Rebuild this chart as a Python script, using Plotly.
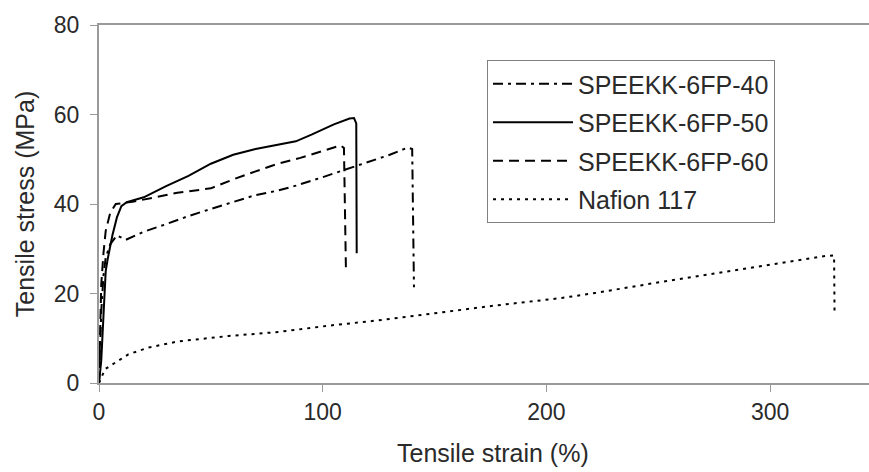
import plotly.graph_objects as go

# ---- data ----
s40_strain = [0, 0.5, 1, 2, 3, 5, 8, 12, 20, 30, 40, 50, 60, 70, 80, 88, 100, 110, 120, 130, 138, 140, 140.8]
s40_stress = [0, 8, 16, 24, 28, 31, 33, 32, 33.8, 35.5, 37.3, 38.9, 40.5, 42, 43, 44.1, 46, 47.7, 49.3, 51, 52.6, 52.3, 21.4]

s50_strain = [0, 1, 2, 3, 4, 6, 8, 10, 12.4, 20, 30, 40, 50, 60, 70, 80, 88, 95, 105, 112, 114, 115, 115.2]
s50_stress = [0, 5, 15, 25, 28, 33, 37, 39.5, 40.4, 41.5, 44, 46.3, 49, 51, 52.3, 53.3, 54, 55.5, 57.8, 59.1, 59.2, 58, 29]

s60_strain = [0, 0.5, 1, 2, 3, 5, 7.5, 15, 25, 35, 50, 60, 70, 80, 90, 100, 108, 109.5, 110.4]
s60_stress = [0, 12, 22, 29, 34, 38, 40, 40.5, 41.5, 42.5, 43.5, 45.5, 47.3, 49, 50.3, 51.8, 53.1, 52.5, 25]

naf_strain = [0, 2.7, 13.1, 22, 35.5, 57.8, 80.2, 102.5, 124.9, 147.2, 177, 206.8, 221.7, 249, 280, 310, 325, 328.6, 328.8]
naf_stress = [0, 3.1, 6.4, 7.9, 9.3, 10.5, 11.4, 12.8, 14.0, 15.4, 17.3, 19.0, 20.1, 22.4, 24.8, 27.2, 28.4, 28.5, 16.1]

names = ["SPEEKK-6FP-40", "SPEEKK-6FP-50", "SPEEKK-6FP-60", "Nafion 117"]
dashes = ["10px,5px,3px,5px", "solid", "10px,6px", "3px,5px"]

x_title = "Tensile strain (%)"
y_title = "Tensile stress (MPa)"

FONT = "Liberation Sans, Arial, sans-serif"
TXT = "#2a2a2a"
AX = "#9a9a9a"

fig = go.Figure()
for i, (xs, ys, nm, ds) in enumerate(zip([s40_strain, s50_strain, s60_strain, naf_strain],
                                         [s40_stress, s50_stress, s60_stress, naf_stress],
                                         names, dashes)):
    fig.add_trace(go.Scatter(x=xs, y=ys, mode="lines", name=nm, legendgroup=f"g{i}",
                             line=dict(color="black", width=2, dash=ds)))

fig.update_layout(
    width=869, height=472,
    margin=dict(l=99, r=0, t=25, b=89),
    paper_bgcolor="white", plot_bgcolor="white",
    font=dict(family=FONT, color=TXT, size=23),
    showlegend=True,
    legend=dict(
        x=(487 - 99) / 770, y=1 - (60 - 25) / 358,
        xanchor="left", yanchor="top",
        bordercolor="#808080", borderwidth=1, bgcolor="white",
        font=dict(size=25, family=FONT, color=TXT),
        itemwidth=80, traceorder="grouped", tracegroupgap=3,
    ),
    xaxis=dict(
        range=[0, 770 / 2.237], tickvals=[0, 100, 200, 300],
        showgrid=False, zeroline=False,
        showline=True, linecolor=AX, linewidth=2, mirror=True,
        ticks="outside", ticklen=7, tickcolor=AX, tickwidth=1,
        tickfont=dict(size=23, family=FONT, color=TXT),
    ),
    yaxis=dict(
        range=[0, 80], tickvals=[0, 20, 40, 60, 80],
        showgrid=False, zeroline=False,
        showline=True, linecolor=AX, linewidth=2,
        ticks="outside", ticklen=7, tickcolor=AX, tickwidth=1,
        tickfont=dict(size=23, family=FONT, color=TXT),
        ticklabelstandoff=6,
        title=dict(text=y_title, font=dict(size=25, family=FONT, color=TXT), standoff=12),
    ),
    annotations=[dict(
        text=x_title, xref="paper", yref="paper",
        x=(493 - 99) / 770, y=(383 - 453) / 358,
        xanchor="center", yanchor="middle", showarrow=False,
        font=dict(size=25, family=FONT, color=TXT),
    )],
)

fig.write_html("out.html")
